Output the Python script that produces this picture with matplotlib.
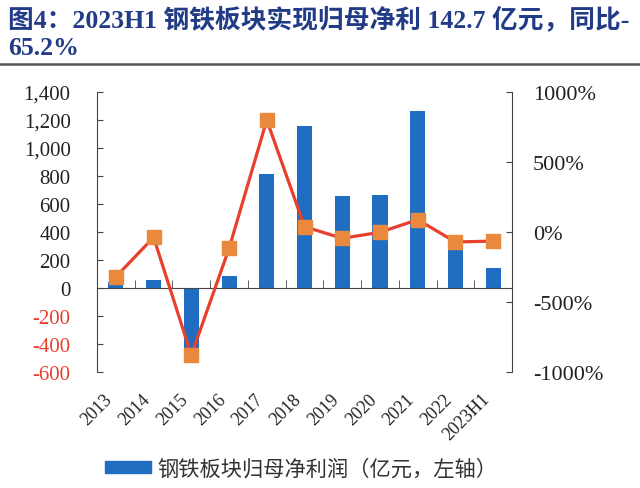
import matplotlib
matplotlib.use('Agg')
import matplotlib.pyplot as plt
from matplotlib.lines import Line2D
from matplotlib.patches import Patch
from matplotlib.ticker import FuncFormatter
import numpy as np

plt.rcParams['font.family'] = ['Liberation Serif', 'Noto Sans CJK SC']
plt.rcParams['axes.unicode_minus'] = False

years = ['2013', '2014', '2015', '2016', '2017', '2018', '2019', '2020', '2021', '2022', '2023H1']
profit = [45, 59, -470, 88, 814, 1155, 655, 662, 1267, 330, 142.7]   # 亿元, left axis
yoy = [-320, -38, -880, -117, 800, 38, -45, -2, 88, -71, -65.2]      # %, right axis

blue = '#1f6ec2'
red = '#e8402d'
orange = '#e8893e'
navy = '#223b87'
spine_c = '#444444'

fig = plt.figure(figsize=(6.4, 4.89), dpi=100)
ax = fig.add_axes([0.1516, 0.2372, 0.6484, 0.5726])

x = np.arange(len(years))
ax.bar(x, profit, width=0.4, color=blue, zorder=2)
ax.set_xlim(-0.5, len(years) - 0.5)
ax.set_ylim(-600, 1400)
ax.set_yticks(np.arange(-600, 1401, 200))
ax.yaxis.set_major_formatter(FuncFormatter(lambda v, p: f'{int(v):,}'))
ax.tick_params(axis='y', direction='in', length=4, pad=19, labelsize=15, color=spine_c)
for lab, v in zip(ax.get_yticklabels(), ax.get_yticks()):
    lab.set_color(red if v < 0 else '#222222')

ax.spines['top'].set_visible(False)
ax.spines['right'].set_visible(False)
ax.spines['bottom'].set_position(('data', 0))
ax.spines['bottom'].set_color(spine_c)
ax.spines['left'].set_color(spine_c)
ax.set_xticks(x)
ax.set_xticklabels([])
ax.tick_params(axis='x', which='major', length=0)
ax.set_xticks(np.arange(-0.5, len(years), 1), minor=True)
ax.tick_params(axis='x', which='minor', direction='in', length=6, color=spine_c)

# year labels hang below the plot area, not at the zero line
labx = ax.twiny()
labx.set_xlim(ax.get_xlim())
labx.set_xticks(x)
labx.set_xticklabels(years, rotation=45, ha='right', fontsize=13, color='#222222')
labx.xaxis.set_ticks_position('bottom')
labx.xaxis.set_label_position('bottom')
labx.tick_params(axis='x', length=0, pad=13)
for s in labx.spines.values():
    s.set_visible(False)

ax2 = ax.twinx()
ax2.plot(x, yoy, color=red, lw=2.3, marker='s', ms=9.5, mfc=orange, mec=orange, zorder=3)
ax2.set_ylim(-1000, 1000)
ax2.set_yticks(np.arange(-1000, 1001, 500))
ax2.yaxis.set_major_formatter(FuncFormatter(lambda v, p: f'{int(v)}%'))
ax2.tick_params(axis='y', direction='in', length=4, pad=15, labelsize=16, color=spine_c, labelcolor='#222222')
for side in ['top', 'bottom', 'left']:
    ax2.spines[side].set_visible(False)
ax2.spines['right'].set_color(spine_c)

fig.text(0.0125, 1 - 19 / 489, '图4：2023H1 钢铁板块实现归母净利 142.7 亿元，同比-',
         fontsize=18.5, fontweight='bold', color=navy, va='center', ha='left')
fig.text(0.0125, 1 - 49 / 489, '65.2%', fontsize=18.5, fontweight='bold', color=navy, va='center', ha='left')
fig.add_artist(Line2D([0, 1], [1 - 65 / 489] * 2, color='#555555', lw=1.8))

fig.legend(handles=[Patch(color=blue, label='钢铁板块归母净利润（亿元，左轴）')],
           loc='center', bbox_to_anchor=(301 / 640, 1 - 470 / 489), frameon=False,
           handlelength=2.2, handleheight=0.5, handletextpad=0.28,
           prop={'size': 15.3}, labelcolor='#333333')

fig.savefig('out.png', dpi=100)
